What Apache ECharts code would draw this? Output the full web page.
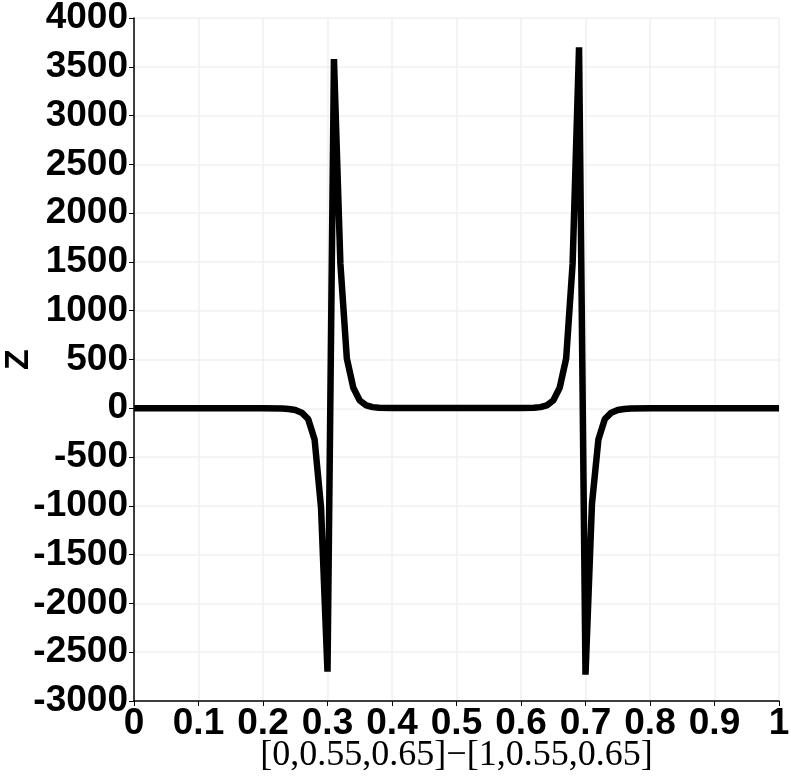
<!DOCTYPE html>
<html>
<head>
<meta charset="utf-8">
<script src="https://cdn.jsdelivr.net/npm/echarts@6/dist/echarts.min.js"></script>
<style>
  html, body { margin: 0; padding: 0; background: #fff; }
  #chart { width: 791px; height: 779px; }
</style>
</head>
<body>
<div id="chart"></div>
<script>
// sample positions along the line [0,0.55,0.65] -> [1,0.55,0.65]
const xs = [0, 0.2, 0.23, 0.24, 0.25, 0.26, 0.27, 0.28, 0.29, 0.30, 0.31, 0.32, 0.33, 0.34, 0.35, 0.36, 0.37, 0.38, 0.40,
            0.60, 0.62, 0.63, 0.64, 0.65, 0.66, 0.67, 0.68, 0.69, 0.70, 0.71, 0.72, 0.73, 0.74, 0.75, 0.76, 0.77, 0.80, 1];
const zs = [0, 0, -3, -8, -18, -45, -110, -320, -1020, -2700, 3580, 1480, 510, 210, 80, 30, 12, 5, 2,
            2, 5, 12, 30, 80, 210, 510, 1480, 3700, -2730, -980, -320, -110, -45, -18, -8, -3, 0, 0];

const xName = '[0,0.55,0.65]\u2212[1,0.55,0.65]';
const yName = 'Z';

const chart = echarts.init(document.getElementById('chart'));
const labelFont = { color: '#000', fontSize: 37, fontWeight: 'bold', fontFamily: 'Liberation Sans' };

chart.setOption({
  animation: false,
  grid: { left: 134, right: 12, top: 18, bottom: 78, containLabel: false, outerBoundsMode: 'none' },
  xAxis: {
    type: 'value',
    min: 0, max: 1, interval: 0.1,
    name: xName,
    nameLocation: 'middle',
    nameGap: 37,
    nameMoveOverlap: false,
    nameTextStyle: { color: '#000', fontSize: 36, fontFamily: 'Liberation Serif' },
    axisLine: { onZero: false, lineStyle: { color: '#000', width: 1.5 } },
    axisTick: { show: true, length: 5, lineStyle: { color: '#000' } },
    axisLabel: Object.assign({ margin: 4, formatter: v => String(v) }, labelFont),
    splitLine: { show: true, lineStyle: { color: '#f0f0f0', width: 1.5 } }
  },
  yAxis: {
    type: 'value',
    min: -3000, max: 4000, interval: 500,
    name: yName,
    nameLocation: 'middle',
    nameGap: 98,
    nameMoveOverlap: false,
    nameRotate: 90,
    nameTextStyle: { color: '#000', fontSize: 34, fontWeight: 'bold', fontFamily: 'Liberation Sans' },
    axisLine: { show: true, lineStyle: { color: '#000', width: 1.5 } },
    axisTick: { show: true, length: 5, lineStyle: { color: '#000' } },
    axisLabel: Object.assign({ margin: 6, formatter: v => String(v) }, labelFont),
    splitLine: { show: true, lineStyle: { color: '#f0f0f0', width: 1.5 } }
  },
  series: [{
    type: 'line',
    data: xs.map((x, i) => [x, zs[i]]),
    showSymbol: false,
    symbol: 'none',
    lineStyle: { color: '#000', width: 6.5 },
    clip: false
  }]
});
</script>
</body>
</html>
